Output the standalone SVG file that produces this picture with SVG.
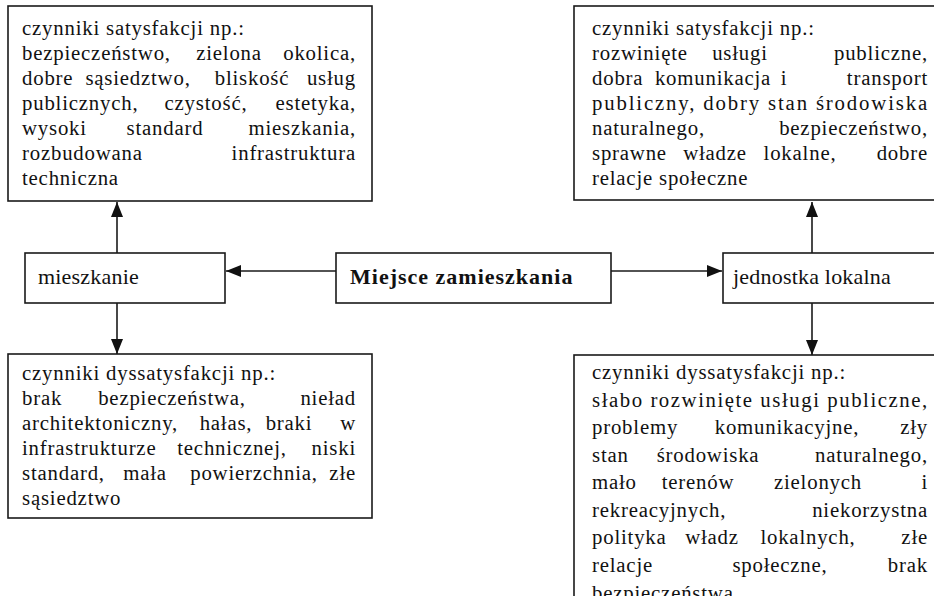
<svg xmlns="http://www.w3.org/2000/svg" width="934" height="596" viewBox="0 0 934 596">
  <style>
    .box { fill: #fff; stroke: #1a1a1a; stroke-width: 1.6; }
    .t { font-family: "Liberation Serif", "Times New Roman", serif; font-size: 20.8px; letter-spacing: 0.8px; fill: #111; }
    .m { font-family: "Liberation Serif", "Times New Roman", serif; font-size: 22px; letter-spacing: 0.2px; fill: #111; }
    .tb { font-family: "Liberation Serif", "Times New Roman", serif; font-size: 22px; font-weight: bold; letter-spacing: 1px; fill: #111; }
    .c { text-anchor: middle; }
    .e { text-anchor: end; }
    .conn { stroke: #1a1a1a; stroke-width: 1.6; fill: none; marker-end: url(#arrow); }
  </style>
  <defs>
    <marker id="arrow" markerUnits="userSpaceOnUse" markerWidth="16" markerHeight="14" viewBox="0 0 16 14" refX="15" refY="7" orient="auto">
      <path d="M0,1 L15,7 L0,13 Z" fill="#111"/>
    </marker>
  </defs>

  <rect width="934" height="596" fill="#fff"/>

  <!-- connectors -->
  <g id="connectors">
    <line class="conn" x1="117" y1="253" x2="117" y2="202"/>
    <line class="conn" x1="117" y1="303" x2="117" y2="354"/>
    <line class="conn" x1="336" y1="271" x2="226" y2="271"/>
    <line class="conn" x1="611" y1="271" x2="722" y2="271"/>
    <line class="conn" x1="812" y1="253" x2="812" y2="202"/>
    <line class="conn" x1="812" y1="303" x2="812" y2="355"/>
  </g>

  <!-- satisfaction factors: dwelling -->
  <g id="sat-dwelling">
    <rect class="box" x="8" y="6" width="364" height="195"/>
    <text class="t" x="22" y="35">czynniki satysfakcji np.:</text>
    <text class="t" y="60"><tspan x="22">bezpieczeństwo,</tspan><tspan class="c" x="229">zielona</tspan><tspan class="e" x="356">okolica,</tspan></text>
    <text class="t" y="85"><tspan x="22">dobre</tspan><tspan class="c" x="138">sąsiedztwo,</tspan><tspan class="c" x="252">bliskość</tspan><tspan class="e" x="356">usług</tspan></text>
    <text class="t" y="110"><tspan x="22">publicznych,</tspan><tspan class="c" x="206">czystość,</tspan><tspan class="e" x="356">estetyka,</tspan></text>
    <text class="t" y="135"><tspan x="22">wysoki</tspan><tspan class="c" x="165">standard</tspan><tspan class="e" x="356">mieszkania,</tspan></text>
    <text class="t" y="160"><tspan x="22">rozbudowana</tspan><tspan class="e" x="356">infrastruktura</tspan></text>
    <text class="t" x="22" y="185">techniczna</text>
  </g>

  <!-- satisfaction factors: local unit -->
  <g id="sat-local">
    <rect class="box" x="574" y="6" width="370" height="194"/>
    <text class="t" x="592" y="35">czynniki satysfakcji np.:</text>
    <text class="t" y="60"><tspan x="592">rozwinięte</tspan><tspan class="c" x="740">usługi</tspan><tspan class="e" x="928">publiczne,</tspan></text>
    <text class="t" y="85"><tspan x="592">dobra</tspan><tspan class="c" x="713">komunikacja</tspan><tspan class="c" x="784">i</tspan><tspan class="e" x="928">transport</tspan></text>
    <text class="t" y="110" x="592" textLength="336" lengthAdjust="spacing">publiczny, dobry stan środowiska</text>
    <text class="t" y="135"><tspan x="592">naturalnego,</tspan><tspan class="e" x="928">bezpieczeństwo,</tspan></text>
    <text class="t" y="160"><tspan x="592">sprawne</tspan><tspan class="c" x="715">władze</tspan><tspan class="c" x="800">lokalne,</tspan><tspan class="e" x="928">dobre</tspan></text>
    <text class="t" x="592" y="185">relacje społeczne</text>
  </g>

  <!-- middle row -->
  <g id="dwelling">
    <rect class="box" x="25" y="253" width="200" height="50"/>
    <text class="m" x="38" y="284">mieszkanie</text>
  </g>
  <g id="place-of-residence">
    <rect class="box" x="336" y="253" width="275" height="50"/>
    <text class="tb" x="350" y="284">Miejsce zamieszkania</text>
  </g>
  <g id="local-unit">
    <rect class="box" x="723" y="253" width="220" height="50"/>
    <text class="m" x="733" y="284">jednostka lokalna</text>
  </g>

  <!-- dissatisfaction factors: dwelling -->
  <g id="dissat-dwelling">
    <rect class="box" x="8" y="354" width="364" height="164"/>
    <text class="t" x="22" y="380">czynniki dyssatysfakcji np.:</text>
    <text class="t" y="405"><tspan x="22">brak</tspan><tspan class="c" x="172">bezpieczeństwa,</tspan><tspan class="e" x="356">nieład</tspan></text>
    <text class="t" y="430"><tspan x="22">architektoniczny,</tspan><tspan class="c" x="226">hałas,</tspan><tspan class="c" x="289">braki</tspan><tspan class="e" x="356">w</tspan></text>
    <text class="t" y="455"><tspan x="22">infrastrukturze</tspan><tspan class="c" x="232">technicznej,</tspan><tspan class="e" x="356">niski</tspan></text>
    <text class="t" y="480"><tspan x="22">standard,</tspan><tspan class="c" x="145">mała</tspan><tspan class="c" x="254">powierzchnia,</tspan><tspan class="e" x="356">złe</tspan></text>
    <text class="t" x="22" y="505">sąsiedztwo</text>
  </g>

  <!-- dissatisfaction factors: local unit -->
  <g id="dissat-local">
    <rect class="box" x="574" y="355" width="370" height="260"/>
    <text class="t" x="592" y="379">czynniki dyssatysfakcji np.:</text>
    <text class="t" y="406.5" x="592" textLength="336" lengthAdjust="spacing">słabo rozwinięte usługi publiczne,</text>
    <text class="t" y="434"><tspan x="592">problemy</tspan><tspan class="c" x="787">komunikacyjne,</tspan><tspan class="e" x="928">zły</tspan></text>
    <text class="t" y="461.5"><tspan x="592">stan</tspan><tspan class="c" x="708">środowiska</tspan><tspan class="e" x="928">naturalnego,</tspan></text>
    <text class="t" y="489"><tspan x="592">mało</tspan><tspan class="c" x="698">terenów</tspan><tspan class="c" x="818">zielonych</tspan><tspan class="e" x="928">i</tspan></text>
    <text class="t" y="516.5"><tspan x="592">rekreacyjnych,</tspan><tspan class="e" x="928">niekorzystna</tspan></text>
    <text class="t" y="544"><tspan x="592">polityka</tspan><tspan class="c" x="712">władz</tspan><tspan class="c" x="808">lokalnych,</tspan><tspan class="e" x="928">złe</tspan></text>
    <text class="t" y="571.5"><tspan x="592">relacje</tspan><tspan class="c" x="780">społeczne,</tspan><tspan class="e" x="928">brak</tspan></text>
    <text class="t" x="592" y="600">bezpieczeństwa</text>
  </g>
</svg>
